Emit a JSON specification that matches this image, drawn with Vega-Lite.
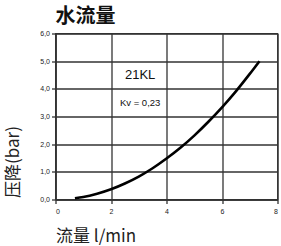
{
  "$schema": "https://vega.github.io/schema/vega-lite/v6.json",
  "width": 222,
  "height": 166,
  "autosize": {"type": "none"},
  "padding": {"left": 55.5, "top": 33.5, "right": 3.5, "bottom": 46.5},
  "background": "white",
  "title": {
    "text": "水流量",
    "font": "Noto Sans CJK SC",
    "fontWeight": "bold",
    "fontSize": 20,
    "color": "#111",
    "anchor": "start",
    "frame": "group",
    "offset": 3,
    "dx": 0
  },
  "config": {
    "view": {"stroke": "#333", "strokeWidth": 1.3},
    "axis": {
      "grid": true,
      "gridColor": "#333",
      "gridWidth": 1.3,
      "gridOpacity": 1,
      "domainColor": "#333",
      "domainWidth": 1.5,
      "tickColor": "#333",
      "tickSize": 4,
      "tickWidth": 1.3,
      "labelFont": "Liberation Sans",
      "labelFontSize": 7,
      "labelColor": "#222",
      "labelOverlap": false,
      "titleFont": "Noto Sans CJK SC",
      "titleFontWeight": "normal",
      "titleFontSize": 17,
      "titleColor": "#222"
    }
  },
  "datasets": {
    "curve": [
      {"flow": 0.7, "dp": 0.045},
      {"flow": 1.0, "dp": 0.09},
      {"flow": 1.5, "dp": 0.21},
      {"flow": 2.0, "dp": 0.37},
      {"flow": 2.5, "dp": 0.58},
      {"flow": 3.0, "dp": 0.83},
      {"flow": 3.5, "dp": 1.13},
      {"flow": 4.0, "dp": 1.48},
      {"flow": 4.5, "dp": 1.87},
      {"flow": 5.0, "dp": 2.31},
      {"flow": 5.5, "dp": 2.8},
      {"flow": 6.0, "dp": 3.33},
      {"flow": 6.5, "dp": 3.91},
      {"flow": 7.0, "dp": 4.54},
      {"flow": 7.35, "dp": 5.0}
    ],
    "labels": [
      {"flow": 3.05, "dp": 4.49, "text": "21KL", "size": 13},
      {"flow": 3.05, "dp": 3.49, "text": "Kv = 0,23", "size": 9.5}
    ]
  },
  "encoding": {
    "x": {
      "field": "flow",
      "type": "quantitative",
      "scale": {"domain": [0, 8], "nice": false},
      "axis": {
        "values": [0, 2, 4, 6, 8],
        "format": "d",
        "labelPadding": 4,
        "title": "流量 l/min",
        "titleAnchor": "start",
        "titleAlign": "left",
        "titleX": 0,
        "titleY": 37,
        "titleBaseline": "middle"
      }
    },
    "y": {
      "field": "dp",
      "type": "quantitative",
      "scale": {"domain": [0, 6], "nice": false},
      "axis": {
        "values": [0, 1, 2, 3, 4, 5, 6],
        "labelExpr": "replace(format(datum.value, '.1f'), '.', ',')",
        "labelPadding": 2,
        "title": "压降(bar)",
        "titleX": -42,
        "titleY": 128,
        "titleAlign": "center",
        "titleBaseline": "middle",
        "titleAngle": -90
      }
    }
  },
  "layer": [
    {
      "data": {"name": "curve"},
      "mark": {"type": "line", "color": "#000", "strokeWidth": 2.6, "interpolate": "monotone"}
    },
    {
      "data": {"name": "labels"},
      "mark": {"type": "text", "font": "Liberation Sans", "color": "#111", "align": "center", "baseline": "middle"},
      "encoding": {
        "text": {"field": "text"},
        "size": {"field": "size", "type": "quantitative", "scale": null, "legend": null}
      }
    }
  ]
}
